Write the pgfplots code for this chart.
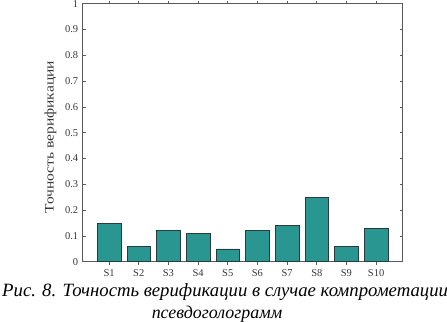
\documentclass[border=0pt]{standalone}
\usepackage{pgfplots}
\pgfplotsset{compat=1.18}
\usepackage{fontspec}
\setmainfont{Liberation Serif}
\definecolor{barfill}{RGB}{42,150,145}
\definecolor{baredge}{RGB}{40,60,60}
\definecolor{axcol}{RGB}{90,90,90}
\definecolor{txtcol}{RGB}{55,55,55}
\begin{document}
\begin{tikzpicture}[x=1bp,y=1bp]
\path[use as bounding box] (0,0) rectangle (447,-321);
\begin{axis}[
  at={(82.7bp,-261.7bp)}, anchor=south west,
  scale only axis, width=319.8bp, height=258bp,
  xmin=0.11, xmax=10.89, ymin=0, ymax=1,
  xtick={1,...,10},
  xticklabels={S1,S2,S3,S4,S5,S6,S7,S8,S9,S10},
  ytick={0,0.1,0.2,0.3,0.4,0.5,0.6,0.7,0.8,0.9,1},
  /pgf/number format/assume math mode=true,
  tick label style={font=\rmfamily\fontsize{10.5}{12}\selectfont, text=txtcol},
  yticklabel style={xshift=-1bp},
  xticklabel style={yshift=-1bp},
  tick align=inside, major tick length=3bp,
  axis line style={axcol, line width=0.6bp},
  every tick/.style={axcol, line width=0.6bp},
  ylabel={\scalebox{1.2}[1]{Точность верификации}},
  ylabel style={at={(axis description cs:-0.1007,0.483)}, anchor=center, font=\rmfamily\fontsize{13}{15}\selectfont, text=txtcol},
  ybar, bar width=23.5bp,
]
\addplot[fill=barfill, draw=baredge, line width=0.6bp] coordinates {
(1,0.15) (2,0.06) (3,0.12) (4,0.11) (5,0.05) (6,0.12) (7,0.14) (8,0.25) (9,0.06) (10,0.13)};
\end{axis}
\node[anchor=base west, font=\rmfamily\itshape\fontsize{18.8}{21}\selectfont, inner sep=0] at (2,-296) {Рис. 8. Точность верификации в случае компрометации};
\node[anchor=base, font=\rmfamily\itshape\fontsize{18}{21}\selectfont, inner sep=0] at (217,-318) {псевдоголограмм};
\end{tikzpicture}
\end{document}
